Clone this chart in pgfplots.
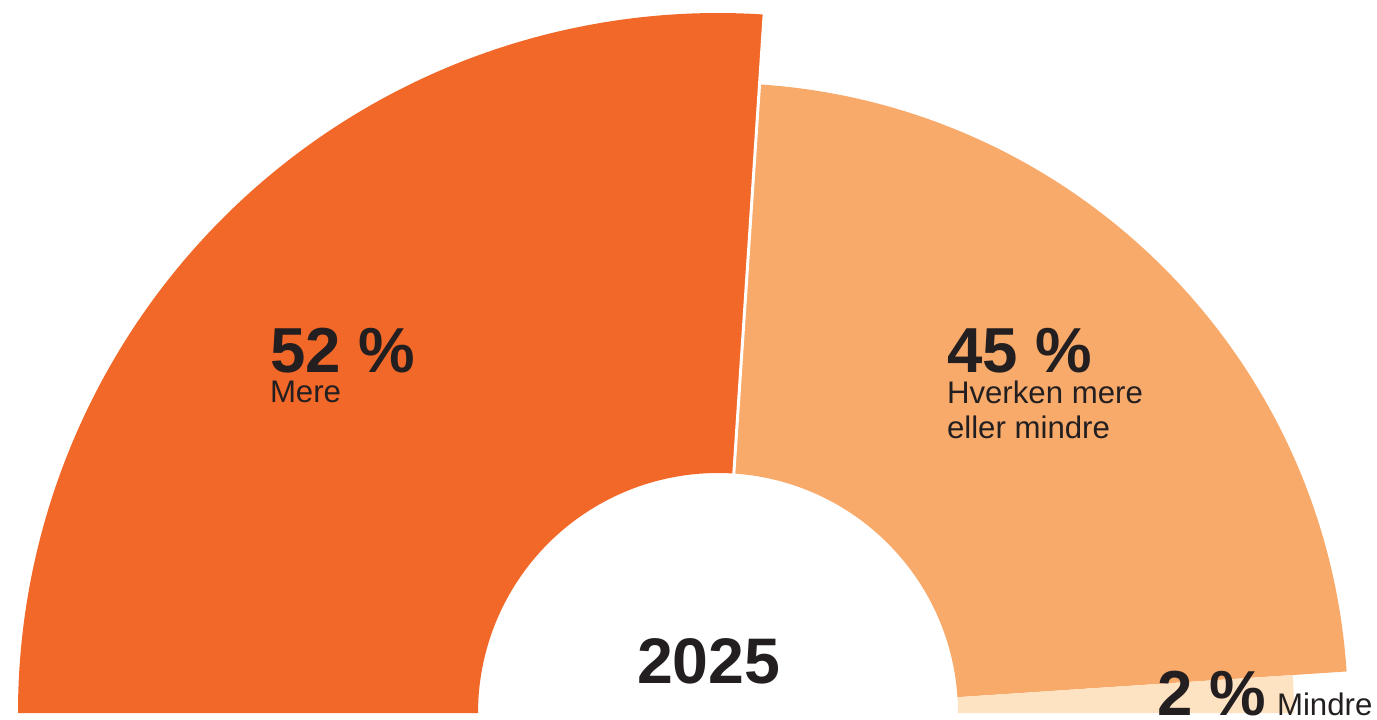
\documentclass[border=0pt]{standalone}
\usepackage{pgfplots}
\pgfplotsset{compat=1.18}
\usepackage{pgfplotstable}
\usepackage{fontspec}
\setmainfont{Liberation Sans}
\definecolor{cA}{HTML}{F26829}
\definecolor{cB}{HTML}{F8AA6B}
\definecolor{cC}{HTML}{FEE3C2}
\definecolor{txt}{HTML}{231F20}

\pgfplotstableread{
label value rout
Mere 52.1 700
Hverken 45.8 630
Mindre 2.1 576
}\donut

\begin{document}
\begin{tikzpicture}
\pgfplotstablegetelem{0}{value}\of\donut \let\vA\pgfplotsretval
\pgfplotstablegetelem{1}{value}\of\donut \let\vB\pgfplotsretval
\pgfplotstablegetelem{2}{value}\of\donut \let\vC\pgfplotsretval
\pgfplotstablegetelem{0}{rout}\of\donut \let\rA\pgfplotsretval
\pgfplotstablegetelem{1}{rout}\of\donut \let\rB\pgfplotsretval
\pgfplotstablegetelem{2}{rout}\of\donut \let\rC\pgfplotsretval
\pgfmathsetmacro\tot{\vA+\vB+\vC}
\pgfmathsetmacro\aA{180-180*\vA/\tot}
\pgfmathsetmacro\aB{\aA-180*\vB/\tot}
\pgfmathsetmacro\RA{\rA*0.5}
\pgfmathsetmacro\RB{\rB*0.5}
\pgfmathsetmacro\RC{\rC*0.5}
\def\RI{120}
\begin{axis}[
  scale only axis, width=688.5pt, height=359.5pt,
  xmin=0, xmax=1377, ymin=0, ymax=719,
  hide axis, clip=false,
]
\path (axis cs:0,0) rectangle (axis cs:1377,719);
\begin{scope}[shift={(axis cs:718,6)}]
\fill[cA] (180:\RA pt) arc[start angle=180, end angle=\aA, radius=\RA pt] -- (\aA:\RI pt) arc[start angle=\aA, end angle=180, radius=\RI pt] -- cycle;
\fill[cB] (\aA:\RB pt) arc[start angle=\aA, end angle=\aB, radius=\RB pt] -- (\aB:\RI pt) arc[start angle=\aB, end angle=\aA, radius=\RI pt] -- cycle;
\fill[cC] (\aB:\RC pt) arc[start angle=\aB, end angle=0, radius=\RC pt] -- (0:\RI pt) arc[start angle=0, end angle=\aB, radius=\RI pt] -- cycle;
\draw[white, line width=1.5pt] (\aA:{\RI pt - 2pt}) -- (\aA:{\RA pt + 2pt});
\end{scope}
\begin{scope}[every node/.style={inner sep=0pt, outer sep=0pt, text=txt}]
\node[anchor=base west, font=\fontsize{31.8}{36}\selectfont\bfseries] at (axis cs:270,347) {52 \%};
\node[anchor=base west, font=\fontsize{15.6}{17.5}\selectfont] at (axis cs:270,317) {Mere};
\node[anchor=base west, font=\fontsize{31.8}{36}\selectfont\bfseries] at (axis cs:947,347) {45 \%};
\node[anchor=base west, font=\fontsize{15.6}{17.5}\selectfont] at (axis cs:947,316) {Hverken mere};
\node[anchor=base west, font=\fontsize{15.6}{17.5}\selectfont] at (axis cs:947,281) {eller mindre};
\node[anchor=base west, font=\fontsize{32.2}{36}\selectfont\bfseries] at (axis cs:637,36) {2025};
\node[anchor=base west, font=\fontsize{31.8}{36}\selectfont\bfseries] at (axis cs:1157,4) {2 \%};
\node[anchor=base west, font=\fontsize{15.6}{17.5}\selectfont] at (axis cs:1277,4) {Mindre};
\end{scope}
\end{axis}
\end{tikzpicture}
\end{document}
